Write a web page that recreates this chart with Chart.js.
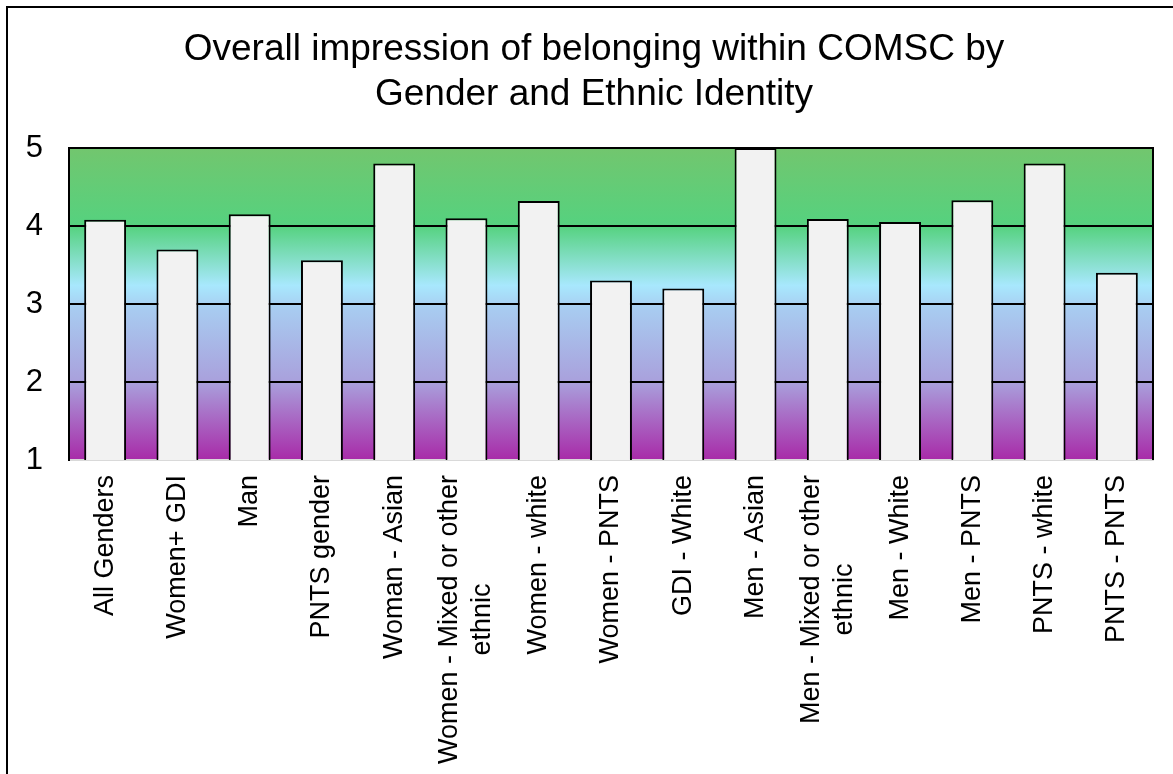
<!DOCTYPE html>
<html>
<head>
<meta charset="utf-8">
<title>Overall impression of belonging within COMSC</title>
<script src="https://cdn.jsdelivr.net/npm/chart.js@4/dist/chart.umd.min.js"></script>
<style>
  html, body { margin: 0; padding: 0; background: #ffffff; }
  #wrap { width: 1173px; height: 774px; position: relative; }
  canvas { display: block; }
</style>
</head>
<body>
<div id="wrap"><canvas id="chart" width="1173" height="774"></canvas></div>
<script>
// Category labels ("\n" marks a line break in the axis label)
const categories = [
  "All Genders",
  "Women+ GDI",
  "Man",
  "PNTS gender",
  "Woman - Asian",
  "Women - Mixed or other\nethnic",
  "Women - white",
  "Women - PNTS",
  "GDI - White",
  "Men - Asian",
  "Men - Mixed or other\nethnic",
  "Men - White",
  "Men - PNTS",
  "PNTS - white",
  "PNTS - PNTS"
];

// Mean belonging score per group (1-5 scale)
const belongingScores = [4.08, 3.70, 4.15, 3.56, 4.80, 4.10, 4.32, 3.30, 3.20, 5.00, 4.09, 4.05, 4.33, 4.80, 3.40];

// Value axis ticks
const yTicks = [1, 2, 3, 4, 5];

const titleLines = ["Overall impression of belonging within COMSC by", "Gender and Ethnic Identity"];

const FONT = "'Liberation Sans', Arial, Helvetica, sans-serif";

// Gradient band behind the plot area: green at the top fading to magenta at the bottom
const plotBackground = {
  id: 'plotBackground',
  beforeDraw(chart) {
    const { ctx, chartArea: a } = chart;
    const g = ctx.createLinearGradient(0, a.top, 0, a.bottom);
    g.addColorStop(0.00, '#72c66e');
    g.addColorStop(0.25, '#55d27f');
    g.addColorStop(0.44, '#a8e8fd');
    g.addColorStop(0.52, '#a8cbf0');
    g.addColorStop(0.75, '#a9a0dc');
    g.addColorStop(1.00, '#a82aa8');
    ctx.save();
    ctx.fillStyle = g;
    ctx.fillRect(a.left, a.top, a.right - a.left, a.bottom - a.top);
    ctx.restore();
  },
  afterDatasetsDraw(chart) {
    const { ctx, chartArea: a } = chart;
    ctx.save();
    ctx.strokeStyle = '#000';
    ctx.lineWidth = 2;
    ctx.beginPath();
    ctx.moveTo(a.right, a.top - 1);
    ctx.lineTo(a.right, a.bottom);
    ctx.stroke();
    ctx.restore();
  },
  afterDraw(chart) {
    const { ctx, width, height } = chart;
    ctx.save();
    // frame around the chart object (left and top edges)
    ctx.strokeStyle = '#000';
    ctx.lineWidth = 2;
    ctx.beginPath();
    ctx.moveTo(7, height);
    ctx.lineTo(7, 7);
    ctx.lineTo(width, 7);
    ctx.stroke();
    // two-line title, centred on the chart object
    ctx.fillStyle = '#000';
    ctx.font = '37px ' + FONT;
    ctx.textAlign = 'center';
    ctx.textBaseline = 'middle';
    titleLines.forEach((line, i) => ctx.fillText(line, 594, 50 + i * 45));
    ctx.restore();
  }
};

// Vertical category labels; wrapped lines are centred on the longest line
const verticalLabels = {
  id: 'verticalLabels',
  afterDraw(chart) {
    const { ctx } = chart;
    const xScale = chart.scales.x;
    const top = chart.chartArea.bottom + 15;
    const size = 27;
    const lineH = 33;
    ctx.save();
    ctx.font = size + 'px ' + FONT;
    ctx.fillStyle = '#000';
    ctx.textAlign = 'center';
    ctx.textBaseline = 'middle';
    categories.forEach((label, i) => {
      const lines = label.split('\n');
      const blockW = Math.max(...lines.map(l => ctx.measureText(l).width));
      const x = xScale.getPixelForTick(i);
      ctx.save();
      ctx.translate(x, top);
      ctx.rotate(-Math.PI / 2);
      lines.forEach((line, k) => {
        const off = (k - (lines.length - 1) / 2) * lineH;
        ctx.fillText(line, -blockW / 2, off);
      });
      ctx.restore();
    });
    ctx.restore();
  }
};

new Chart(document.getElementById('chart'), {
  type: 'bar',
  data: {
    labels: categories,
    datasets: [{
      data: belongingScores,
      backgroundColor: '#f2f2f2',
      borderColor: '#000000',
      borderWidth: 2,
      borderSkipped: 'bottom',
      barPercentage: 0.58,
      categoryPercentage: 1.0
    }]
  },
  options: {
    responsive: false,
    devicePixelRatio: 1,
    animation: false,
    layout: { padding: { left: 0, right: 20, top: 148, bottom: 0 } },
    plugins: {
      legend: { display: false },
      tooltip: { enabled: false },
      title: { display: false }
    },
    scales: {
      x: {
        grid: { display: false },
        border: { color: '#d9d9d9', width: 2 },
        ticks: { display: false },
        afterFit(scale) { scale.height = 314; }
      },
      y: {
        min: yTicks[0],
        max: yTicks[yTicks.length - 1],
        afterBuildTicks(scale) { scale.ticks = yTicks.map(v => ({ value: v })); },
        ticks: {
          color: '#000',
          font: { family: FONT, size: 31 },
          padding: 26
        },
        grid: {
          drawTicks: false,
          lineWidth: 2,
          color: ctx => (ctx.tick && ctx.tick.value === yTicks[0]) ? '#d9d9d9' : '#000'
        },
        border: { color: '#000', width: 2 },
        afterFit(scale) { scale.width = 69; }
      }
    }
  },
  plugins: [plotBackground, verticalLabels]
});
</script>
</body>
</html>
